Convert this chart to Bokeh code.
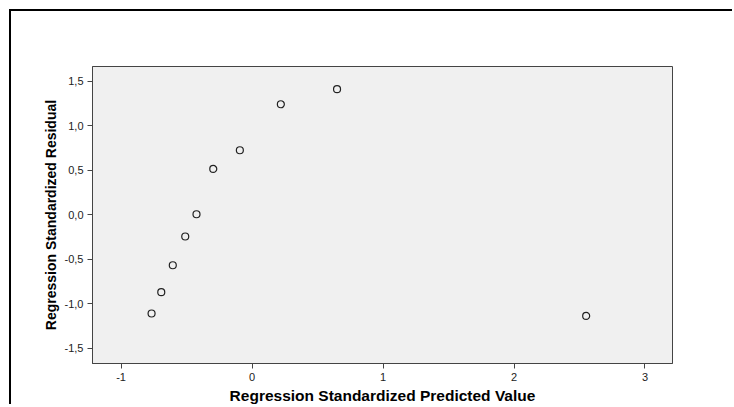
from bokeh.plotting import figure
from bokeh.embed import file_html
from bokeh.resources import INLINE
from bokeh.models import Range1d, FixedTicker

# data
pred = [-0.767, -0.693, -0.605, -0.510, -0.424, -0.296, -0.093, 0.220, 0.649, 2.551]
resid = [-1.112, -0.873, -0.570, -0.247, 0.003, 0.512, 0.722, 1.239, 1.408, -1.139]
x_ticks = [-1, 0, 1, 2, 3]
y_ticks = [-1.5, -1.0, -0.5, 0.0, 0.5, 1.0, 1.5]
x_tick_labels = ["-1", "0", "1", "2", "3"]
y_tick_labels = ["-1,5", "-1,0", "-0,5", "0,0", "0,5", "1,0", "1,5"]
x_title = "Regression Standardized Predicted Value"
y_title = "Regression Standardized Residual"

FONT = "Liberation Sans"

p = figure(width=723, height=395, output_backend="svg", toolbar_location=None,
           x_range=Range1d(-1.218, 3.21), y_range=Range1d(-1.674, 1.663),
           min_border_left=81, min_border_right=62, min_border_top=55,
           min_border_bottom=43)
p.margin = (9, 0, 0, 9)
p.styles = {"border-top": "2px solid black", "border-left": "2px solid black"}

p.background_fill_color = "#f0f0f0"
p.border_fill_color = "white"
p.outline_line_color = "#444444"
p.outline_line_width = 1
p.xgrid.visible = False
p.ygrid.visible = False

for ax, ticks, labels, title in ((p.xaxis[0], x_ticks, x_tick_labels, x_title),
                                 (p.yaxis[0], y_ticks, y_tick_labels, y_title)):
    ax.ticker = FixedTicker(ticks=ticks)
    ax.major_label_overrides = {t: l for t, l in zip(ticks, labels)}
    ax.minor_tick_line_color = None
    ax.major_tick_in = 0
    ax.major_tick_out = 5
    ax.major_tick_line_color = "#444444"
    ax.axis_line_color = "#444444"
    ax.major_label_text_font = FONT
    ax.major_label_text_font_size = "11px"
    ax.major_label_text_color = "#222222"
    ax.major_label_standoff = 4
    ax.axis_label = title
    ax.axis_label_text_font = FONT
    ax.axis_label_text_font_style = "bold"
    ax.axis_label_text_color = "black"

p.xaxis[0].axis_label_text_font_size = "15.5px"
p.yaxis[0].axis_label_text_font_size = "14px"
p.xaxis[0].axis_label_standoff = 3
p.yaxis[0].axis_label_standoff = 3
p.yaxis[0].major_label_orientation = "horizontal"

p.scatter(pred, resid, marker="circle", size=7, fill_color=None,
          line_color="#222222", line_width=1.2)

open("out.html", "w").write(file_html(p, INLINE))
